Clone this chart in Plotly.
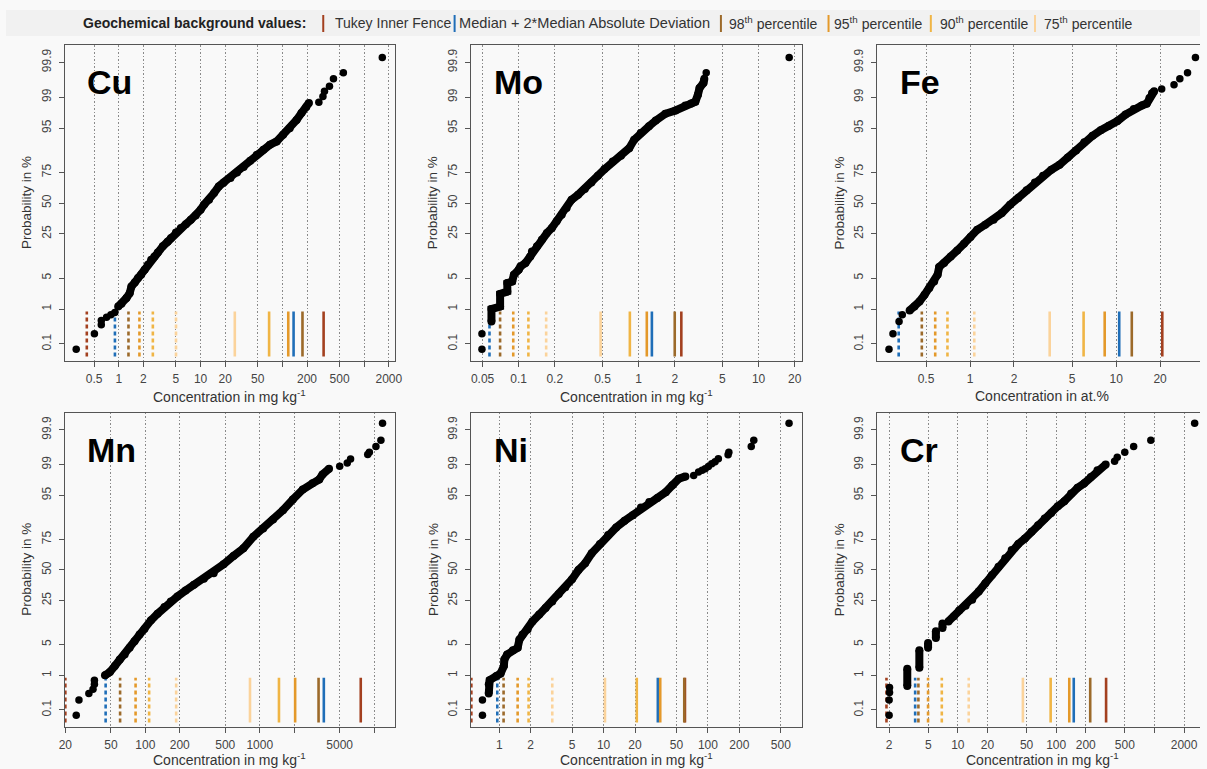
import plotly.graph_objects as go
from statistics import NormalDist

# ---------------- data ----------------
# probabilities in %, concentrations in the axis unit
CU_BODY_X = [0.984, 1.08, 1.24, 1.36, 1.43, 1.57, 1.72, 1.88, 2.07, 2.27, 2.49, 2.73, 3.00, 3.45, 3.96, 4.35,
             5.0, 5.74, 6.61, 7.60, 8.73, 10.0, 11.0, 12.7, 14.6, 16.7, 19.2, 23.2, 27.9, 33.6, 40.5, 48.7,
             58.6, 70.6, 85.1, 102, 123, 149, 171, 196, 211]
CU_BODY_P = [1.16, 1.35, 1.85, 2.40, 3.36, 4.08, 4.98, 5.78, 7.16, 8.79, 10.66, 12.1, 13.9, 17.1, 19.8, 22.1,
             26.0, 29.2, 32.2, 35.7, 39.3, 44.2, 48.5, 52.9, 58.7, 64.3, 67.5, 70.9, 74.9, 78.6, 82.4, 85.6,
             87.9, 90.0, 91.2, 93.3, 95.0, 96.6, 97.6, 98.25, 98.6]
CU_TAIL_X = [0.302, 0.504, 0.612, 0.612, 0.710, 0.802, 0.895, 279, 313, 327, 376, 421, 556, 1663]
CU_TAIL_P = [0.067, 0.205, 0.377, 0.50, 0.614, 0.71, 0.82, 98.65, 99.04, 99.29, 99.48, 99.68, 99.79, 99.93]
# thresholds order: Tukey, Median+2MAD, 98th, 95th, 90th, 75th
CU_LOW = [0.407, 0.898, 1.315, 1.79, 2.61, 5.01]
CU_HIGH = [319, 137, 176, 118, 68.8, 26.2]

MO_BODY_X = [0.0593, 0.0593, 0.070, 0.070, 0.0804, 0.0804, 0.0883, 0.0912, 0.100, 0.1035, 0.1138, 0.125,
             0.129, 0.142, 0.156, 0.172, 0.189, 0.2075, 0.2285, 0.251, 0.276, 0.313, 0.356, 0.404, 0.458,
             0.520, 0.608, 0.713, 0.835, 0.918, 1.04, 1.22, 1.39, 1.67, 2.03, 2.45, 2.75, 2.97, 3.12, 3.22,
             3.47, 3.53]
MO_BODY_P = [0.47, 1.0, 1.16, 2.3, 2.6, 3.95, 4.27, 5.78, 7.16, 8.2, 9.4, 12.1, 14.4, 17.1, 21.0, 25.5,
             29.2, 34.4, 39.9, 45.6, 52.9, 57.3, 62.1, 67.5, 72.6, 77.2, 82.0, 85.1, 88.6, 91.8, 93.8, 95.4,
             96.5, 97.5, 97.9, 98.4, 98.55, 98.7, 99.13, 99.42, 99.58, 99.68]
MO_TAIL_X = [0.0494, 0.0494, 3.66, 18.0]
MO_TAIL_P = [0.067, 0.205, 99.79, 99.93]
MO_LOW = [None, 0.0571, 0.070, 0.0901, 0.1205, 0.1695]
MO_HIGH = [2.27, 1.29, 2.0, 1.17, 0.845, 0.482]

FE_BODY_X = [0.386, 0.417, 0.451, 0.488, 0.527, 0.569, 0.600, 0.615, 0.665, 0.738, 0.818, 0.909, 1.008,
             1.12, 1.27, 1.45, 1.65, 1.88, 2.14, 2.44, 2.78, 3.16, 3.60, 4.10, 4.67, 5.32, 6.05, 6.89, 7.85,
             8.93, 10.2, 11.6, 13.2, 15.0, 16.2, 16.9, 17.6, 18.2]
FE_BODY_P = [0.92, 1.16, 1.54, 2.2, 3.1, 4.27, 5.78, 8.0, 9.4, 12.1, 14.9, 18.6, 22.8, 27.9, 31.7, 35.7,
             41.3, 48.5, 54.4, 61.0, 67.5, 72.6, 76.8, 80.0, 84.2, 87.6, 90.9, 93.0, 94.5, 95.5, 96.4, 97.4,
             98.05, 98.4, 98.55, 98.94, 99.21, 99.29]
FE_TAIL_X = [0.279, 0.297, 0.327, 0.344, 20.5, 24.9, 27.3, 30.8, 34.9]
FE_TAIL_P = [0.067, 0.205, 0.47, 0.71, 99.39, 99.53, 99.68, 99.79, 99.93]
FE_LOW = [None, 0.325, 0.468, 0.578, 0.701, 1.07]
FE_HIGH = [20.7, 10.5, 12.8, 8.35, 5.99, 3.51]

MN_BODY_X = [44.4, 49.0, 54.1, 59.8, 66.0, 72.9, 80.5, 89.0, 98.3, 112, 128, 147, 167, 191, 225, 266, 325,
             396, 483, 590, 720, 879, 1072, 1308, 1596, 1946, 2377, 2898, 3311, 3539, 4036]
MN_BODY_P = [1.0, 1.21, 1.69, 2.40, 3.1, 4.27, 5.78, 7.67, 9.63, 13.3, 16.7, 20.6, 24.3, 27.9, 32.5, 37.1,
             42.2, 47.1, 54.9, 62.1, 68.3, 76.8, 82.0, 86.7, 90.6, 94.0, 96.2, 97.2, 97.7, 98.25, 98.72]
MN_TAIL_X = [24.9, 26.3, 32.1, 34.9, 35.9, 35.9, 5000, 5821, 6224, 8790, 9087, 10370, 11460, 11840]
MN_TAIL_P = [0.067, 0.205, 0.32, 0.42, 0.58, 0.74, 98.9, 99.08, 99.28, 99.46, 99.53, 99.68, 99.79, 99.94]
MN_LOW = [20.0, 45.0, 60.2, 82.2, 108, 186]
MN_HIGH = [7640, 3633, 3268, 2040, 1473, 822]

NI_BODY_X = [0.793, 0.793, 0.810, 0.937, 1.03, 1.107, 1.12, 1.19, 1.35, 1.50, 1.56, 1.67, 1.87, 2.08, 2.41,
             2.78, 3.22, 3.72, 4.30, 4.98, 5.75, 6.65, 7.69, 9.22, 11.05, 13.2, 15.9, 19.05, 22.8, 27.4,
             32.8, 39.4, 45.5, 52.6, 60.9]
NI_BODY_P = [0.32, 0.58, 0.75, 0.96, 1.12, 1.69, 2.40, 3.10, 3.82, 4.27, 6.2, 7.67, 9.4, 12.8, 16.2, 20.0,
             24.3, 29.7, 35.2, 41.9, 50.0, 55.8, 64.3, 71.6, 77.9, 82.6, 86.1, 88.6, 91.6, 93.3, 94.4, 95.7,
             96.9, 97.8, 98.05]
NI_TAIL_X = [0.690, 0.690, 73.0, 81.3, 88.0, 94.1, 101, 108.8, 117, 125.8, 156, 158.6, 260, 275, 599]
NI_TAIL_P = [0.067, 0.205, 98.15, 98.46, 98.6, 98.72, 98.88, 99.04, 99.15, 99.29, 99.45, 99.53, 99.68,
             99.79, 99.94]
NI_LOW = [0.54, 0.957, 1.10, 1.50, 1.91, 3.22]
NI_HIGH = [60.2, 33.1, 59.3, 34.9, 20.8, 10.3]

CR_STACK_X = [3.06, 4.06, 4.98, 5.98, 6.98]
CR_STACK_P_LO = [0.52, 1.54, 4.27, 6.67, 10.0]
CR_STACK_P_HI = [1.46, 3.82, 5.36, 8.8, 11.8]
CR_BODY_X = [8.02, 9.14, 10.3, 12.0, 14.0, 16.3, 19.05, 22.2, 25.9, 30.3, 35.3, 41.2, 48.1, 56.1, 65.5,
             76.4, 89.1, 104, 121, 142, 165, 193, 225, 263, 319]
CR_BODY_P = [12.8, 15.3, 18.6, 21.5, 25.5, 31.7, 38.5, 45.6, 52.9, 60.1, 67.0, 71.6, 75.6, 80.0, 83.8,
             87.2, 89.6, 92.0, 93.5, 95.4, 96.5, 97.2, 97.98, 98.6, 99.0]
CR_TAIL_X = [2.0, 2.0, 2.02, 2.02, 393, 418, 499, 614, 918, 2563]
CR_TAIL_P = [0.067, 0.205, 0.34, 0.47, 99.18, 99.36, 99.53, 99.68, 99.79, 99.94]
CR_LOW = [1.88, 3.68, 3.97, 4.98, 6.87, 12.9]
CR_HIGH = [322, 151, 222, 136, 87.9, 45.9]

Y_TICKS = [0.1, 1, 5, 25, 50, 75, 95, 99, 99.9]
Y_TICKTEXT = ["0.1", "1", "5", "25", "50", "75", "95", "99", "99.9"]

# labelled ticks and unlabelled (minor) ticks of each x axis
CU_XTICKS = [0.5, 1, 2, 5, 10, 20, 50, 200, 500, 2000]
CU_XTEXT = ["0.5", "1", "2", "5", "10", "20", "50", "200", "500", "2000"]
CU_XMINOR = [100, 1000]
MO_XTICKS = [0.05, 0.1, 0.2, 0.5, 1, 2, 5, 10, 20]
MO_XTEXT = ["0.05", "0.1", "0.2", "0.5", "1", "2", "5", "10", "20"]
MO_XMINOR = []
FE_XTICKS = [0.5, 1, 2, 5, 10, 20]
FE_XTEXT = ["0.5", "1", "2", "5", "10", "20"]
FE_XMINOR = []
MN_XTICKS = [20, 50, 100, 200, 500, 1000, 5000]
MN_XTEXT = ["20", "50", "100", "200", "500", "1000", "5000"]
MN_XMINOR = [2000, 10000]
NI_XTICKS = [1, 2, 5, 10, 20, 50, 100, 200, 500]
NI_XTEXT = ["1", "2", "5", "10", "20", "50", "100", "200", "500"]
NI_XMINOR = []
CR_XTICKS = [2, 5, 10, 20, 50, 100, 200, 500, 2000]
CR_XTEXT = ["2", "5", "10", "20", "50", "100", "200", "500", "2000"]
CR_XMINOR = [1000]

STAT_LABELS = ["Tukey Inner Fence", "Median + 2*Median Absolute Deviation", "98<sup>th</sup> percentile",
               "95<sup>th</sup> percentile", "90<sup>th</sup> percentile", "75<sup>th</sup> percentile"]

# ---------------- styles / geometry ----------------
W, H = 1207, 769
STAT_COLORS = ["#A3401F", "#1F6EB8", "#9C6A2A", "#E4992A", "#F0B545", "#FBD39B"]
SEG_BOT_P, SEG_TOP_P = 0.038, 0.87
FONT = "Liberation Sans, Arial, sans-serif"
AXC = "#555555"
GRIDC = "#8a8a8a"
GRIDDASH = "1.5px,2px"

ND = NormalDist()


def zq(p):
    return ND.inv_cdf(p / 100.0)


def px(x):
    return x / W


def py(y):
    return 1 - y / H


COLS = [(59.3, 393.3), (470.0, 804.3), (880.7, 1207.0)]
ROWS = [(45.0, 360.7), (412.7, 726.7)]

panels = [
    dict(name="Cu", r=0, c=0, bx=CU_BODY_X, bp=CU_BODY_P, tx=CU_TAIL_X, tp=CU_TAIL_P, low=CU_LOW,
         high=CU_HIGH, xr=[-0.661, 3.377], xt=CU_XTICKS, xtt=CU_XTEXT, xm=CU_XMINOR, unit="mg kg<sup>-1</sup>"),
    dict(name="Mo", r=0, c=1, bx=MO_BODY_X, bp=MO_BODY_P, tx=MO_TAIL_X, tp=MO_TAIL_P, low=MO_LOW,
         high=MO_HIGH, xr=[-1.398, 1.359], xt=MO_XTICKS, xtt=MO_XTEXT, xm=MO_XMINOR, unit="mg kg<sup>-1</sup>"),
    dict(name="Fe", r=0, c=2, bx=FE_BODY_X, bp=FE_BODY_P, tx=FE_TAIL_X, tp=FE_TAIL_P, low=FE_LOW,
         high=FE_HIGH, xr=[-0.635, 1.574], xt=FE_XTICKS, xtt=FE_XTEXT, xm=FE_XMINOR, unit="at.%"),
    dict(name="Mn", r=1, c=0, bx=MN_BODY_X, bp=MN_BODY_P, tx=MN_TAIL_X, tp=MN_TAIL_P, low=MN_LOW,
         high=MN_HIGH, xr=[1.295, 4.183], xt=MN_XTICKS, xtt=MN_XTEXT, xm=MN_XMINOR, unit="mg kg<sup>-1</sup>"),
    dict(name="Ni", r=1, c=1, bx=NI_BODY_X, bp=NI_BODY_P, tx=NI_TAIL_X, tp=NI_TAIL_P, low=NI_LOW,
         high=NI_HIGH, xr=[-0.2715, 2.898], xt=NI_XTICKS, xtt=NI_XTEXT, xm=NI_XMINOR, unit="mg kg<sup>-1</sup>"),
    dict(name="Cr", r=1, c=2, bx=CR_BODY_X, bp=CR_BODY_P, tx=CR_TAIL_X, tp=CR_TAIL_P, low=CR_LOW,
         high=CR_HIGH, xr=[0.180, 3.463], xt=CR_XTICKS, xtt=CR_XTEXT, xm=CR_XMINOR, unit="mg kg<sup>-1</sup>"),
]

fig = go.Figure()
layout = dict(
    width=W, height=H, autosize=False,
    margin=dict(l=0, r=0, t=0, b=0, pad=0),
    paper_bgcolor="#f9f9f9", plot_bgcolor="#f9f9f9",
    showlegend=False, font=dict(family=FONT, color="#333333"),
)
annotations = []
shapes = []

YR = [-3.46, 3.47]
MARK = 8

for i, p in enumerate(panels, start=1):
    xn = "x" if i == 1 else f"x{i}"
    yn = "y" if i == 1 else f"y{i}"
    xl, xr_ = COLS[p["c"]]
    yt, yb = ROWS[p["r"]]
    last_col = p["c"] == 2
    xaxis = dict(
        domain=[px(xl), min(1.0, px(xr_))], anchor=yn, type="log", range=p["xr"],
        tickmode="array", tickvals=p["xt"], ticktext=p["xtt"], tickangle=0,
        showgrid=True, gridcolor=GRIDC, griddash=GRIDDASH, gridwidth=1, zeroline=False,
        showline=True, linecolor=AXC, linewidth=1.3, mirror=True,
        ticks="outside", ticklen=5, tickcolor=AXC, tickwidth=1,
        tickfont=dict(size=12, color="#444444", family=FONT), ticklabelstandoff=2,
    )
    if p["xm"]:
        xaxis["minor"] = dict(tickmode="array", tickvals=p["xm"], ticks="outside", ticklen=5,
                              tickcolor=AXC, tickwidth=1, showgrid=True, gridcolor=GRIDC,
                              griddash=GRIDDASH, gridwidth=1)
    else:
        xaxis["minor"] = dict(ticks="", showgrid=False)
    layout["xaxis" if i == 1 else f"xaxis{i}"] = xaxis
    layout["yaxis" if i == 1 else f"yaxis{i}"] = dict(
        domain=[py(yb), py(yt)], anchor=xn, range=YR,
        tickmode="array", tickvals=[zq(v) for v in Y_TICKS], ticktext=Y_TICKTEXT, tickangle=-90,
        showgrid=False, zeroline=False,
        showline=True, linecolor=AXC, linewidth=1.3, mirror=(not last_col),
        ticks="outside", ticklen=5, tickcolor=AXC, tickwidth=1,
        tickfont=dict(size=12, color="#444444", family=FONT), ticklabelstandoff=3,
    )

    # threshold segments
    for k in range(6):
        for vals, dash in ((p["low"], "4px,3px"), (p["high"], "solid")):
            v = vals[k]
            if v is None:
                continue
            fig.add_trace(go.Scatter(
                x=[v, v], y=[zq(SEG_BOT_P), zq(SEG_TOP_P)], mode="lines",
                line=dict(color=STAT_COLORS[k], width=2.6, dash=dash),
                xaxis=xn, yaxis=yn, hoverinfo="skip"))

    # Cr discrete value stacks
    if p["name"] == "Cr":
        for sx, lo, hi in zip(CR_STACK_X, CR_STACK_P_LO, CR_STACK_P_HI):
            fig.add_trace(go.Scatter(
                x=[sx, sx], y=[zq(lo), zq(hi)], mode="lines+markers",
                line=dict(color="black", width=MARK), marker=dict(color="black", size=MARK),
                xaxis=xn, yaxis=yn))

    # dense body of the probability plot
    fig.add_trace(go.Scatter(
        x=p["bx"], y=[zq(v) for v in p["bp"]], mode="lines+markers",
        line=dict(color="black", width=MARK), marker=dict(color="black", size=MARK),
        xaxis=xn, yaxis=yn))
    # individual tail points
    fig.add_trace(go.Scatter(
        x=p["tx"], y=[zq(v) for v in p["tp"]], mode="markers",
        marker=dict(color="black", size=MARK - 0.5),
        xaxis=xn, yaxis=yn))

    # panel label
    annotations.append(dict(
        x=px(xl + 21), y=py(yt + 37), xref="paper", yref="paper", xanchor="left", yanchor="middle",
        text=f"<b>{p['name']}</b>", showarrow=False, font=dict(size=34, color="black", family=FONT)))
    # x title
    xtitle_y = 396 if p["r"] == 0 else 759
    annotations.append(dict(
        x=px((xl + xl + 334) / 2), y=py(xtitle_y), xref="paper", yref="paper",
        xanchor="center", yanchor="middle", showarrow=False,
        text=f"Concentration in {p['unit']}", font=dict(size=14, color="#333333", family=FONT)))
    # y title
    annotations.append(dict(
        x=px(xl - 38), y=py((yt + yb) / 2), xref="paper", yref="paper",
        xanchor="center", yanchor="middle", showarrow=False, textangle=-90,
        text="Probability in %", font=dict(size=13.5, color="#333333", family=FONT)))

# header band / legend
shapes.append(dict(type="rect", xref="paper", yref="paper", x0=0, x1=1, y0=py(36), y1=py(10),
                   fillcolor="#f1f1f1", line=dict(width=0), layer="below"))
annotations.append(dict(x=px(76), y=py(23), xref="paper", yref="paper", xanchor="left", yanchor="middle",
                        showarrow=False, text="<b>Geochemical background values:</b>",
                        font=dict(size=14, color="#222222", family=FONT)))
BAR_X = [320.7, 453.5, 722.7, 831.5, 934.9, 1040.2]
TXT_X = [331, 456, 729, 835, 942, 1047]
TXT_SIZE = [14, 14.6, 14, 14, 14, 14]
for k in range(6):
    shapes.append(dict(type="line", xref="paper", yref="paper", x0=px(BAR_X[k]), x1=px(BAR_X[k]),
                       y0=py(32), y1=py(15), line=dict(color=STAT_COLORS[k], width=2)))
    annotations.append(dict(x=px(TXT_X[k]), y=py(23), xref="paper", yref="paper", xanchor="left",
                            yanchor="middle", showarrow=False, text=STAT_LABELS[k],
                            font=dict(size=TXT_SIZE[k], color="#333333", family=FONT)))

layout["annotations"] = annotations
layout["shapes"] = shapes
fig.update_layout(**layout)
fig.write_html(
    "out.html",
    config={"displayModeBar": False},
    post_script=("document.documentElement.style.margin='0';document.body.style.margin='0';"
                 "document.body.style.padding='0';document.body.style.overflow='hidden';"
                 "document.documentElement.style.overflow='hidden';"),
)
